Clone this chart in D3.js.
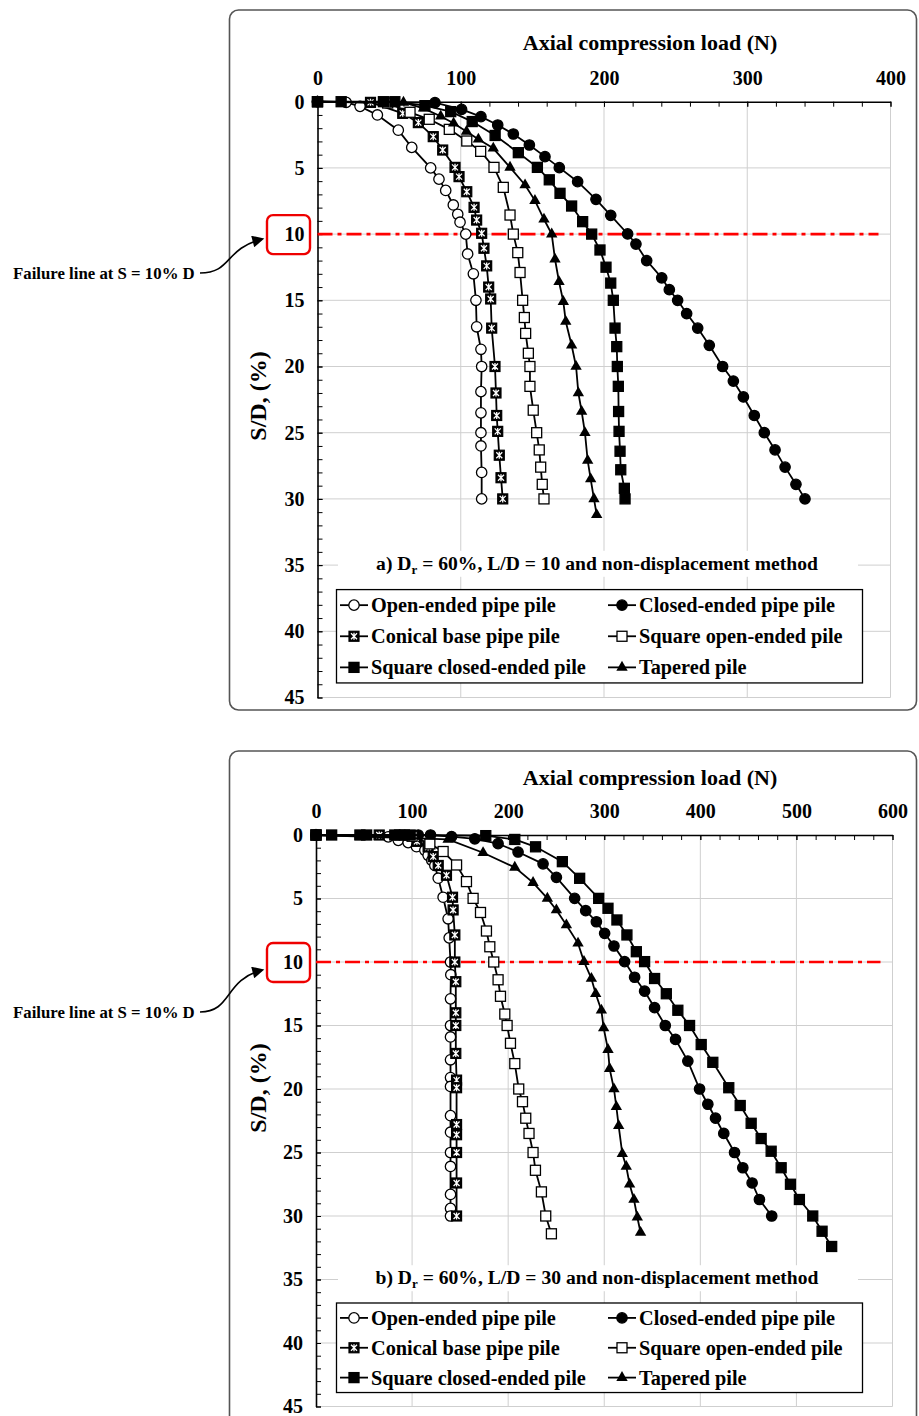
<!DOCTYPE html>
<html>
<head>
<meta charset="utf-8">
<script src="https://cdn.jsdelivr.net/npm/d3@7"></script>
<style>
  body { margin: 0; background: #fff; }
  text { font-family: "Liberation Serif", "Times New Roman", serif; font-weight: bold; fill: #000; }
</style>
</head>
<body>
<script>
// series names / marker kinds (legend order)
var seriesNames = ["Open-ended pipe pile", "Closed-ended pipe pile", "Conical base pipe pile",
                   "Square open-ended pile", "Square closed-ended pile", "Tapered pile"];
var seriesMarks = ["openCircle", "circle", "conical", "openSquare", "square", "triangle"];

var yTicks = [0, 5, 10, 15, 20, 25, 30, 35, 40, 45];
var xTicksA = [0, 100, 200, 300, 400];
var xTicksB = [0, 100, 200, 300, 400, 500, 600];
var failureSD = 10;

// a) L/D = 10 : [load (N), S/D (%)]
var a_open = [[0,0],[20,0.05],[29.7,0.35],[41.8,1.0],[56.4,2.15],[65.8,3.45],[79,5],[84.8,5.85],[89.5,6.7],[94.8,7.8],[97.9,8.5],[99.5,9.1],[103.5,10],[104.8,11.5],[108.8,13],[110.6,15],[111.1,17],[114.1,18.7],[114.6,20],[114.1,21.9],[114.1,23.5],[114.1,25],[114.1,26],[114.6,28],[114.6,30]];
var a_closed = [[0,0],[82,0.07],[100.6,0.58],[114.1,1.13],[125.8,1.76],[136.7,2.44],[147.9,3.27],[158.8,4.15],[168.8,4.98],[181.6,6.04],[194.4,7.37],[204.7,8.58],[216.5,9.99],[222.3,10.75],[229.8,12],[240.3,13.3],[245.6,14.2],[251.4,15],[257.7,16],[265.4,17.1],[273.5,18.4],[282.8,20],[290.3,21.1],[297.3,22.3],[304.9,23.7],[311.9,25],[319.4,26.3],[326.4,27.6],[334,28.9],[340.3,30]];
var a_conical = [[0,0],[37,0.05],[59.5,0.88],[70.4,1.58],[80.8,2.64],[87.4,3.65],[96,4.96],[98.8,5.66],[104.2,6.8],[109.3,7.98],[111.1,8.94],[114.6,9.94],[116.2,11.07],[118.1,12.4],[119.5,14],[120.9,14.9],[121.6,17.1],[123.9,20],[124.6,22],[125.1,23.7],[125.8,24.9],[126.9,26.7],[128.1,28.4],[129.3,30]];
var a_sqOpen = [[0,0],[49,0.1],[64.6,0.8],[78,1.33],[92,2.09],[104.2,2.97],[113.9,3.75],[123.2,4.96],[129.7,6.47],[134.4,8.56],[136.7,10],[139.8,11.4],[141.4,12.9],[143.2,15],[144.4,16.3],[145.3,17.5],[147.2,19],[148.3,20],[148.3,21.5],[150.6,23.3],[153,25],[154.8,26.3],[155.8,27.6],[156.9,28.9],[158.1,30]];
var a_sqClosed = [[0,0],[16.5,0],[46,0],[54,0],[75,0.3],[93,0.75],[108,1.5],[124,2.55],[140.2,3.85],[153.5,4.96],[161.8,5.9],[169.3,6.92],[177.4,7.88],[185.1,9.06],[191.4,10],[197.2,11.2],[201.4,12.5],[204.7,13.7],[206.5,15],[207.7,17.1],[208.9,18.5],[209.3,20],[210,21.5],[210.2,23.4],[210.5,24.9],[211.2,26.4],[211.7,27.8],[214.2,29.2],[214.7,30]];
var a_tapered = [[0,0],[60,0.05],[74,0.5],[86,1.1],[95,1.63],[104,2.25],[112.3,2.84],[122.7,3.52],[134.4,4.96],[144.9,6.29],[151.8,7.47],[158.1,8.88],[163.5,10],[165.8,11.9],[168.6,13.6],[171.6,15.1],[173.3,16.6],[177.4,18.4],[180.5,20],[182.1,22],[184.4,23.4],[186.7,25],[188.6,27.1],[190.7,28.5],[193,30],[194.9,31.2]];

// b) L/D = 30
var b_open = [[0,0],[75.2,0.15],[85.6,0.42],[95.9,0.6],[104.6,0.92],[113.3,1.2],[116.7,1.6],[120.5,2],[123.7,2.4],[127.2,3.4],[132.3,4.9],[137.5,6.6],[138.6,8.1],[140,10],[140.3,11],[140,12.9],[140,15],[140,15.9],[140,17.7],[140,19.1],[140,19.8],[140,22.1],[140,23.4],[140,25],[140,26.1],[140,28.3],[140,29.4],[140,30]];
var b_closed = [[0,0],[106.4,0],[119.2,0],[141.1,0.12],[165.3,0.3],[189.5,0.68],[210.3,1.34],[236.3,2.27],[250.2,3.33],[269.2,4.99],[280.7,5.96],[291.8,6.83],[300.4,7.74],[310.1,8.74],[321.2,9.97],[331.6,11.2],[342,12.3],[352.4,13.6],[363.5,15],[374.2,16.1],[387,17.8],[399.2,20],[407.8,21.2],[415.8,22.3],[424.4,23.5],[435.6,25],[444.2,26.2],[453.9,27.4],[461.5,28.7],[474.3,30]];
var b_conical = [[0,0],[65.8,0],[105,0.5],[116.7,0.94],[122,1.7],[127.2,2.4],[135.8,3.17],[142.1,4.9],[142.7,5.9],[144.5,7.87],[144.5,10],[145.5,11.55],[145.5,14],[145.5,15],[145.5,17.2],[146.3,19.3],[146.3,19.9],[146.3,22.8],[146.3,23.6],[146.3,25],[146.3,27.4],[146.3,30]];
var b_sqOpen = [[0,0],[100,0.1],[118.5,0.7],[132.3,1.3],[146.3,2.36],[156.6,3.67],[163.5,4.99],[171.2,6.1],[177.4,7.56],[180.9,8.8],[185,10],[189.5,11.4],[192,12.7],[196.5,14.1],[198.9,15],[202.4,16.4],[206.9,18],[211,20],[214.9,21],[218.3,22.3],[221.7,23.5],[225.9,25],[228.4,26.4],[234.6,28.1],[239.1,30],[245,31.4]];
var b_sqClosed = [[0,0],[16.3,0],[45.7,0],[52.7,0],[82,0],[87,0],[92,0],[98,0],[176.7,0.05],[206.9,0.35],[228.5,0.93],[256.4,2.1],[274.4,3.41],[294.2,4.99],[303.9,5.77],[313.2,6.69],[323.6,7.87],[333.4,9.19],[342,9.97],[352.4,11.3],[364.6,12.5],[376.6,13.8],[388.8,15],[400.9,16.5],[413,17.9],[429.6,19.9],[441.5,21.3],[452.9,22.7],[463.3,23.9],[473.7,24.9],[484.1,26.2],[493.8,27.5],[503.1,28.7],[517,30],[526.7,31.2],[536.7,32.4]];
var b_tapered = [[0,0],[137.5,0.35],[173.9,1.4],[206.9,2.55],[225.9,3.75],[240.8,4.99],[250.2,5.91],[260.6,7.09],[272.7,8.53],[278.9,9.97],[286.6,11.3],[291.1,12.5],[297,13.8],[299.4,15.2],[303.9,16.9],[305.6,18.4],[310.1,20],[312.6,21.4],[315,22.9],[318.8,25.1],[322.9,26.1],[326.4,27.5],[330.9,28.7],[334.4,30.1],[337.8,31.3]];

var svg = d3.select("body").append("svg")
    .attr("width", 919)
    .attr("height", 1416);

var defs = svg.append("defs");
defs.append("marker")
    .attr("id", "arrow")
    .attr("viewBox", "0 -5 10 10")
    .attr("refX", 8)
    .attr("refY", 0)
    .attr("markerWidth", 15)
    .attr("markerHeight", 12)
    .attr("markerUnits", "userSpaceOnUse")
    .attr("orient", "auto")
    .append("path")
    .attr("d", "M0,-5L10,0L0,5Z")
    .attr("fill", "#000");

function drawMarker(g, kind) {
  if (kind == "openCircle" || kind == "circle") {
    g.append("circle").attr("r", 5.2)
      .attr("fill", kind == "circle" ? "#000" : "#fff")
      .attr("stroke", "#000").attr("stroke-width", 1.3);
  } else if (kind == "openSquare" || kind == "square") {
    g.append("rect").attr("x", -5).attr("y", -5).attr("width", 10).attr("height", 10)
      .attr("fill", kind == "square" ? "#000" : "#fff")
      .attr("stroke", "#000").attr("stroke-width", 1.3);
  } else if (kind == "conical") {
    g.append("rect").attr("x", -5).attr("y", -5).attr("width", 10).attr("height", 10)
      .attr("fill", "#000").attr("stroke", "#000").attr("stroke-width", 1.2);
    g.append("path").attr("d", "M-3,-3L3,3M3,-3L-3,3M0,-3.5L0,3.5")
      .attr("stroke", "#fff").attr("stroke-width", 1.3);
  } else {
    g.append("path").attr("d", d3.symbol().type(d3.symbolTriangle).size(56)())
      .attr("fill", "#000");
  }
}

function drawChart(opt) {
  var x = d3.scaleLinear().domain([0, opt.xMax]).range([opt.left, opt.right]);
  var y = d3.scaleLinear().domain([0, 45]).range([opt.top, opt.bottom]);
  var g = svg.append("g");

  // rounded panel frame
  g.append("rect")
    .attr("x", 229.5).attr("y", opt.panelTop)
    .attr("width", 687).attr("height", opt.panelH)
    .attr("rx", 9)
    .attr("fill", "#fff").attr("stroke", "#555").attr("stroke-width", 1.6);

  // grid
  var grid = g.append("g").attr("stroke", "#cfcfcf").attr("stroke-width", 1);
  opt.xTicks.slice(1).forEach(function (v) {
    grid.append("line").attr("x1", x(v)).attr("x2", x(v)).attr("y1", y(0)).attr("y2", y(45));
  });
  yTicks.slice(1).forEach(function (v) {
    grid.append("line").attr("x1", x(0)).attr("x2", x(opt.xMax)).attr("y1", y(v)).attr("y2", y(v));
  });

  // axes (ticks inside the plot)
  var xMinor = d3.range(0, opt.xMax + 1, 20);
  g.append("g").attr("transform", "translate(0," + y(0) + ")")
    .call(d3.axisTop(x).tickValues(xMinor).tickSize(-5).tickSizeOuter(0).tickFormat(""))
    .call(function (s) { s.select(".domain").attr("stroke-width", 1.6); });
  g.append("g").attr("transform", "translate(0," + y(0) + ")")
    .call(d3.axisTop(x).tickValues(opt.xTicks).tickSize(-5).tickSizeOuter(0).tickPadding(17))
    .call(function (s) {
      s.select(".domain").remove();
      s.selectAll("text").attr("font-size", 20).style("font-family", "Liberation Serif").style("font-weight", "bold");
    });
  var yMinor = d3.range(0, 46, 1);
  g.append("g").attr("transform", "translate(" + x(0) + ",0)")
    .call(d3.axisLeft(y).tickValues(yMinor).tickSize(-5).tickSizeOuter(0).tickFormat(""))
    .call(function (s) { s.select(".domain").attr("stroke-width", 1.6); });
  g.append("g").attr("transform", "translate(" + x(0) + ",0)")
    .call(d3.axisLeft(y).tickValues(yTicks).tickSize(-5).tickSizeOuter(0).tickPadding(13))
    .call(function (s) {
      s.select(".domain").remove();
      s.selectAll("text").attr("font-size", 20).style("font-family", "Liberation Serif").style("font-weight", "bold");
    });

  // titles
  g.append("text")
    .attr("x", 650).attr("y", opt.titleY)
    .attr("text-anchor", "middle").attr("font-size", 22)
    .text("Axial compression load (N)");
  g.append("text")
    .attr("transform", "translate(266," + opt.yLabelY + ") rotate(-90)")
    .attr("text-anchor", "middle").attr("font-size", 24)
    .text("S/D, (%)");

  // failure line at S/D = 10 %
  g.append("line")
    .attr("x1", x(0)).attr("x2", opt.right - 12)
    .attr("y1", y(failureSD)).attr("y2", y(failureSD))
    .attr("stroke", "#ff0000").attr("stroke-width", 2.6)
    .attr("stroke-dasharray", "15,5,4,5");
  g.append("rect")
    .attr("x", 267).attr("y", y(failureSD) - 19)
    .attr("width", 43).attr("height", 39).attr("rx", 6)
    .attr("fill", "none").attr("stroke", "#ee0000").attr("stroke-width", 2.4);
  g.append("text")
    .attr("x", 13).attr("y", opt.noteY)
    .attr("font-size", 16.8)
    .text("Failure line at S = 10% D");
  var ny = opt.noteY - 6, ty = opt.arrowY;
  g.append("path")
    .attr("d", "M200," + ny + " C232," + ny + " 224," + (ty + 10) + " 262," + ty)
    .attr("fill", "none").attr("stroke", "#000").attr("stroke-width", 1.6)
    .attr("marker-end", "url(#arrow)");

  // series
  var line = d3.line().x(function (d) { return x(d[0]); }).y(function (d) { return y(d[1]); });
  opt.series.forEach(function (data, i) {
    g.append("path").datum(data)
      .attr("d", line)
      .attr("fill", "none").attr("stroke", "#000").attr("stroke-width", 1.8);
    g.append("g").selectAll("g").data(data).join("g")
      .attr("transform", function (d) { return "translate(" + x(d[0]) + "," + y(d[1]) + ")"; })
      .each(function () { drawMarker(d3.select(this), seriesMarks[i]); });
  });

  // caption
  var capY = y(34.9);
  g.append("rect")
    .attr("x", 338).attr("y", capY - 13).attr("width", 520).attr("height", 26)
    .attr("fill", "#fff");
  var cap = g.append("text")
    .attr("x", 597).attr("y", capY + 6)
    .attr("text-anchor", "middle").attr("font-size", 19.6);
  cap.append("tspan").text(opt.capLetter + ") D");
  cap.append("tspan").attr("font-size", 13).attr("dy", 4).text("r");
  cap.append("tspan").attr("dy", -4).text(" = 60%, L/D = " + opt.ld + " and non-displacement method");

  // legend
  var ly0 = y(36.85), ly1 = y(43.9);
  var leg = g.append("g");
  leg.append("rect")
    .attr("x", 336.5).attr("y", ly0).attr("width", 526).attr("height", ly1 - ly0)
    .attr("fill", "#fff").attr("stroke", "#000").attr("stroke-width", 1.3);
  var rowStep = (ly1 - ly0) / 3;
  seriesNames.forEach(function (name, i) {
    var col = i % 2, row = Math.floor(i / 2);
    var cx = col == 0 ? 354 : 622;
    var cy = ly0 + rowStep * (row + 0.5);
    leg.append("line").attr("x1", cx - 14).attr("x2", cx + 14).attr("y1", cy).attr("y2", cy)
      .attr("stroke", "#000").attr("stroke-width", 1.8);
    drawMarker(leg.append("g").attr("transform", "translate(" + cx + "," + cy + ")"), seriesMarks[i]);
    leg.append("text").attr("x", cx + 17).attr("y", cy + 7)
      .attr("font-size", 20.3).text(name);
  });
}

drawChart({
  xMax: 400, xTicks: xTicksA,
  left: 317.5, right: 890.5, top: 101.7, bottom: 697.5,
  panelTop: 10, panelH: 700, titleY: 50, yLabelY: 396,
  noteY: 279, arrowY: 239,
  capLetter: "a", ld: 10,
  series: [a_open, a_closed, a_conical, a_sqOpen, a_sqClosed, a_tapered]
});
drawChart({
  xMax: 600, xTicks: xTicksB,
  left: 316, right: 892.5, top: 835, bottom: 1406.5,
  panelTop: 751, panelH: 700, titleY: 785, yLabelY: 1088,
  noteY: 1018, arrowY: 970,
  capLetter: "b", ld: 30,
  series: [b_open, b_closed, b_conical, b_sqOpen, b_sqClosed, b_tapered]
});
</script>
</body>
</html>
